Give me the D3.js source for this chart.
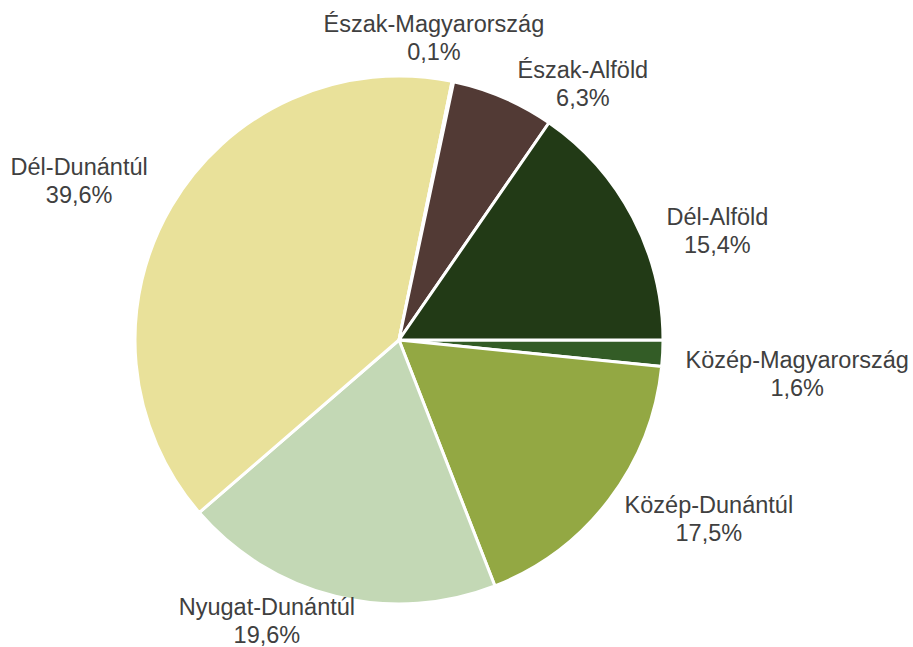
<!DOCTYPE html>
<html>
<head>
<meta charset="utf-8">
<script src="https://cdn.jsdelivr.net/npm/d3@7"></script>
<style>
  body { margin: 0; background: #fff; }
  text { font-family: "Liberation Sans", Arial, sans-serif; font-size: 23.5px; fill: #404040; }
</style>
</head>
<body>
<svg id="chart"></svg>
<script>
// DATA
var regions = ["Közép-Magyarország", "Közép-Dunántúl", "Nyugat-Dunántúl", "Dél-Dunántúl",
               "Észak-Magyarország", "Észak-Alföld", "Dél-Alföld"];
var shares = [1.6, 17.5, 19.6, 39.6, 0.1, 6.3, 15.4];
var colors = ["#335c26", "#93a843", "#c3d8b5", "#e9e19a", "#8a7a5a", "#523a35", "#223a16"];

// SIZING
var width = 913, height = 647;
var cx = 399, cy = 340, radius = 264;

// label nudges, best-fit style placement
var nudge = [[1, 18], [15, -11], [-42, -24], [-14, 0], [-46, 5], [45, 32], [20, 37]];

var svg = d3.select("#chart").attr("width", width).attr("height", height);
var g = svg.append("g").attr("transform", "translate(" + cx + "," + cy + ")");

var data = regions.map((r, i) => ({ name: r, value: shares[i], color: colors[i], i: i }));

var pie = d3.pie().sort(null).value(d => d.value)
  .startAngle(Math.PI / 2).endAngle(Math.PI / 2 + 2 * Math.PI);
var arc = d3.arc().innerRadius(0).outerRadius(radius);
var fmt = v => d3.format(".1f")(v).replace(".", ",") + "%";

var arcs = pie(data);

g.selectAll("path.slice")
  .data(arcs)
  .enter()
  .append("path")
  .attr("class", "slice")
  .attr("d", arc)
  .style("fill", d => d.data.color)
  .style("stroke", "#fff")
  .style("stroke-width", 3)
  .style("stroke-linejoin", "round");

// LABELS
var labels = g.selectAll("g.label")
  .data(arcs)
  .enter()
  .append("g")
  .attr("class", "label");

labels.append("text")
  .attr("class", "name")
  .attr("text-anchor", "middle")
  .text(d => d.data.name);
labels.append("text")
  .attr("class", "val")
  .attr("text-anchor", "middle")
  .attr("y", 28)
  .text(d => fmt(d.data.value));

labels.attr("transform", function (d) {
  var w = d3.select(this).select("text.name").node().getComputedTextLength();
  var h = 56;
  var a = (d.startAngle + d.endAngle) / 2;
  var s = Math.sin(a), c = Math.cos(a);
  var px = (radius + 22) * s, py = -(radius + 22) * c;
  var lx = px + s * w / 2 + nudge[d.data.i][0];
  var ly = py - c * h / 2 + nudge[d.data.i][1];
  return "translate(" + lx + "," + (ly - 6) + ")";
});
</script>
</body>
</html>
